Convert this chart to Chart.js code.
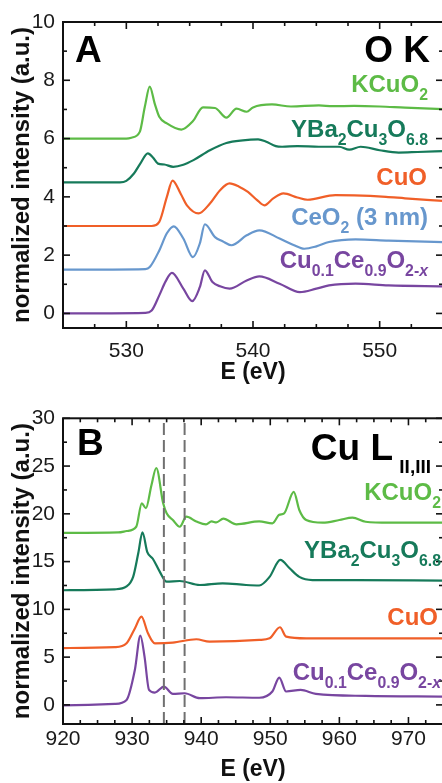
<!DOCTYPE html>
<html>
<head>
<meta charset="utf-8">
<script src="https://cdn.jsdelivr.net/npm/chart.js@4.4.0/dist/chart.umd.min.js"></script>
<style>
  html, body { margin: 0; padding: 0; background: #fff; overflow: hidden; width: 442px; height: 783px; }
  canvas { position: absolute; left: 0; }
  #chartA { top: 0; }
  #chartB { top: 392px; }
</style>
</head>
<body>
<canvas id="chartA" width="444" height="392"></canvas>
<canvas id="chartB" width="444" height="391"></canvas>
<script>
// ---- O K edge (panel A) ----
const okE_KCuO2 = [525, 530.0, 530.4, 531.06, 531.46, 531.85, 532.24, 532.6, 533.2, 534.35, 535.26, 536.05, 537.0, 537.9, 538.7, 539.5, 540.0, 541.5, 543, 545.2, 546.3, 548, 550, 552, 555];
const okI_KCuO2 = [6.0, 6.0, 6.03, 6.23, 7.09, 7.78, 7.2, 6.75, 6.52, 6.31, 6.6, 7.07, 7.05, 6.72, 7.03, 6.92, 7.07, 7.17, 7.1, 7.14, 7.11, 7.12, 7.1, 7.06, 7.01];

const okE_YBCO = [525, 529.5, 530.0, 530.6, 531.1, 531.7, 532.1, 532.5, 533.0, 533.7, 534.5, 535.3, 536.6, 537.9, 539.2, 540.4, 541.0, 541.8, 542.3, 543.5, 545.2, 546.8, 547.6, 548.5, 550, 551.5, 553, 555];
const okI_YBCO = [4.5, 4.5, 4.55, 4.8, 5.14, 5.49, 5.35, 5.14, 5.11, 5.03, 5.1, 5.26, 5.6, 5.85, 5.94, 5.97, 5.9, 5.74, 5.72, 5.74, 5.72, 5.72, 5.62, 5.72, 5.6, 5.52, 5.54, 5.57];

const okE_CuO = [525, 532.0, 532.6, 533.2, 533.65, 534.3, 534.8, 535.7, 536.6, 537.4, 538.15, 538.9, 539.6, 540.3, 540.9, 541.6, 542.4, 543.5, 544.3, 546.5, 548, 550.5, 552, 555];
const okI_CuO = [3.0, 3.0, 3.14, 4.0, 4.56, 4.1, 3.7, 3.43, 3.77, 4.23, 4.46, 4.35, 4.17, 3.9, 3.71, 3.95, 4.12, 3.98, 3.9, 4.06, 4.05, 4.0, 3.95, 3.86];

const okE_CeO2 = [525, 531.5, 531.85, 532.6, 533.2, 533.74, 534.5, 535.26, 535.8, 536.2, 537.0, 537.6, 538.3, 539.5, 540.5, 542.1, 543.2, 544.05, 545, 546, 548.1, 550.7, 555];
const okI_CeO2 = [1.5, 1.52, 1.59, 2.16, 2.75, 2.99, 2.57, 1.93, 2.4, 3.06, 2.62, 2.48, 2.34, 2.68, 2.85, 2.57, 2.35, 2.22, 2.3, 2.45, 2.54, 2.5, 2.45];

const okE_CuCe = [525, 531.5, 532.0, 532.6, 533.1, 533.6, 534.5, 535.2, 535.8, 536.2, 536.8, 537.4, 538.15, 539.5, 540.5, 542.1, 543.7, 545, 546, 548.1, 550.7, 555];
const okI_CuCe = [0, 0.02, 0.1, 0.62, 1.1, 1.39, 0.85, 0.42, 0.9, 1.48, 1.08, 0.93, 0.85, 1.13, 1.27, 1.02, 0.73, 0.85, 0.96, 1.02, 0.96, 0.93];

const okTicksX = [530, 540, 550];
const okTicksY = [0, 2, 4, 6, 8, 10];

// ---- Cu L edge (panel B) ----
const cuE_KCuO2 = [920, 928.0, 929.2, 930.6, 931.4, 932.0, 932.8, 933.5, 934.5, 935.0, 935.9, 936.9, 937.85, 939.3, 940.7, 941.5, 942.2, 943.2, 945.1, 948.4, 950.3, 951.3, 952.0, 953.4, 954.2, 955.2, 957.6, 960, 961.9, 963.8, 967.2, 975];
const cuI_KCuO2 = [18, 18.05, 18.2, 18.65, 21.1, 20.6, 23.0, 24.8, 21.1, 20.05, 19.35, 18.65, 19.7, 19.2, 18.9, 19.2, 19.1, 19.5, 18.9, 19.2, 19.0, 19.9, 20.05, 22.3, 20.4, 19.35, 19.07, 19.35, 19.6, 19.17, 19.07, 19.07];

const cuE_YBCO = [920, 927.5, 929.2, 930.15, 930.9, 931.5, 932.2, 933.0, 934.0, 935.0, 936.9, 939.8, 943.1, 946.5, 948.4, 949.9, 951.45, 952.8, 954.2, 956.1, 962.4, 975];
const cuI_YBCO = [12, 12.1, 12.4, 13.4, 15.9, 18.07, 16.0, 15.3, 13.95, 12.9, 12.97, 12.55, 12.73, 12.55, 12.5, 13.4, 15.17, 14.3, 13.4, 13.07, 13.07, 13.0];

const cuE_CuO = [920, 927.5, 929.2, 930.4, 931.35, 932.3, 933.3, 935.9, 939.3, 941.2, 948.4, 949.9, 951.4, 952.3, 955.2, 975];
const cuI_CuO = [5.95, 6.05, 6.45, 8.0, 9.24, 7.5, 6.45, 6.52, 6.87, 6.62, 6.8, 6.97, 8.13, 7.15, 6.97, 6.97];

const cuE_CuCe = [920, 927.5, 929.2, 930.4, 931.2, 931.8, 932.45, 933.3, 934.6, 935.9, 937.6, 939.8, 943.6, 948.4, 950.3, 951.3, 952.3, 954.4, 956.6, 963.8, 975];
const cuI_CuCe = [-0.05, 0.1, 0.52, 3.66, 7.25, 5.05, 1.57, 1.29, 1.92, 1.15, 1.22, 0.7, 0.8, 0.75, 1.4, 2.86, 1.4, 1.57, 1.15, 0.94, 0.87];

const cuDashE = [934.6, 937.6];
const cuTicksX = [920, 930, 940, 950, 960, 970];
const cuTicksY = [0, 5, 10, 15, 20, 25, 30];

const C_KCUO2 = '#5dbb46';
const C_YBCO = '#167a5a';
const C_CUO = '#f05f28';
const C_CEO2 = '#6797cd';
const C_CUCE = '#7846a0';

Chart.defaults.font.family = '"Liberation Sans", Arial, sans-serif';
Chart.defaults.color = '#111';

const pts = (xs, ys) => xs.map((x, i) => ({ x: x, y: ys[i] }));

function curve(xs, ys, color) {
  return {
    data: pts(xs, ys), borderColor: color, borderWidth: 2.2, pointRadius: 0,
    showLine: true, fill: false, cubicInterpolationMode: 'monotone'
  };
}

function drawRich(ctx, parts, right, base, size, color) {
  const fonts = parts.map(p => {
    const s = p[1] ? size * 0.66 : size;
    return (p[1] === 'i' ? 'italic ' : '') + 'bold ' + s + 'px "Liberation Sans", Arial, sans-serif';
  });
  let w = 0;
  parts.forEach((p, i) => { ctx.font = fonts[i]; w += ctx.measureText(p[0]).width; });
  let xx = right - w;
  ctx.fillStyle = color;
  ctx.textBaseline = 'alphabetic';
  ctx.textAlign = 'left';
  parts.forEach((p, i) => {
    ctx.font = fonts[i];
    ctx.fillText(p[0], xx, base + (p[1] ? size * 0.33 : 0));
    xx += ctx.measureText(p[0]).width;
  });
}

const framePlugin = {
  id: 'frame',
  afterDatasetsDraw(chart, args, opts) {
    const { ctx, chartArea: a, scales: { x, y } } = chart;
    ctx.save();
    ctx.strokeStyle = '#111';
    ctx.lineWidth = 2;
    ctx.strokeRect(a.left, a.top, a.right - a.left, a.bottom - a.top);
    const line = (x1, y1, x2, y2) => { ctx.beginPath(); ctx.moveTo(x1, y1); ctx.lineTo(x2, y2); ctx.stroke(); };
    const isMajor = (sc, v) => sc.ticks.some(t => Math.abs(t.value - v) < 1e-6);
    ctx.lineWidth = 1.6;
    for (let v = Math.ceil(x.min / opts.xMinor) * opts.xMinor; v <= x.max + 1e-9; v += opts.xMinor) {
      const p = x.getPixelForValue(v), L = isMajor(x, v) ? 7 : 4;
      line(p, a.bottom, p, a.bottom - L);
      line(p, a.top, p, a.top + L);
    }
    for (let v = Math.ceil(y.min / opts.yMinor) * opts.yMinor; v <= y.max + 1e-9; v += opts.yMinor) {
      const p = y.getPixelForValue(v), L = isMajor(y, v) ? 7 : 4;
      line(a.left, p, a.left + L, p);
      line(a.right, p, a.right - L, p);
    }
    (opts.labels || []).forEach(l => drawRich(ctx, l.parts, l.x, l.y, l.size, l.color));
    ctx.fillStyle = '#000';
    ctx.textAlign = 'left';
    ctx.textBaseline = 'alphabetic';
    (opts.letters || []).forEach(l => {
      ctx.font = 'bold ' + l.size + 'px "Liberation Sans", Arial, sans-serif';
      ctx.fillText(l.text, l.x, l.y);
    });
    ctx.restore();
  }
};

function makeOptions(cfg) {
  return {
    responsive: false,
    animation: false,
    layout: { padding: { top: cfg.top, right: 1, left: 0, bottom: 0 } },
    plugins: {
      legend: { display: false },
      tooltip: { enabled: false },
      frame: cfg.frame
    },
    scales: {
      x: {
        type: 'linear', min: cfg.xMin, max: cfg.xMax,
        afterBuildTicks: s => { s.ticks = cfg.ticksX.map(v => ({ value: v })); },
        afterFit: s => { s.height = cfg.xHeight; },
        grid: { display: false, drawTicks: false },
        border: { display: false },
        ticks: { font: { size: 21 }, color: '#1a1a1a', padding: cfg.xPad, maxRotation: 0, autoSkip: false },
        title: { display: true, text: 'E (eV)', font: { size: 23, weight: 'bold' }, color: '#111', padding: { top: 0, bottom: cfg.titlePad } }
      },
      y: {
        type: 'linear', min: cfg.yMin, max: cfg.yMax,
        afterBuildTicks: s => { s.ticks = cfg.ticksY.map(v => ({ value: v })); },
        afterFit: s => { s.width = 63; },
        grid: { display: false, drawTicks: false },
        border: { display: false },
        ticks: { font: { size: 21 }, color: '#1a1a1a', padding: 8, autoSkip: false },
        title: { display: true, text: 'normalized intensity (a.u.)', font: { size: 24, weight: 'bold' }, color: '#111', padding: { top: 8, bottom: 0 } }
      }
    }
  };
}

new Chart(document.getElementById('chartA'), {
  type: 'scatter',
  data: {
    datasets: [
      curve(okE_CuCe, okI_CuCe, C_CUCE),
      curve(okE_CeO2, okI_CeO2, C_CEO2),
      curve(okE_CuO, okI_CuO, C_CUO),
      curve(okE_YBCO, okI_YBCO, C_YBCO),
      curve(okE_KCuO2, okI_KCuO2, C_KCUO2)
    ]
  },
  options: makeOptions({
    top: 22, xMin: 525, xMax: 555, yMin: -0.5, yMax: 10,
    ticksX: okTicksX, ticksY: okTicksY, xHeight: 64, xPad: 11, titlePad: 6,
    frame: {
      xMinor: 2.5, yMinor: 1,
      letters: [{ text: 'A', x: 75, y: 62, size: 37 }],
      labels: [
        { parts: [['O K']], x: 430, y: 62, size: 37, color: '#000' },
        { parts: [['KCuO'], ['2', 's']], x: 428, y: 92, size: 24, color: C_KCUO2 },
        { parts: [['YBa'], ['2', 's'], ['Cu'], ['3', 's'], ['O'], ['6.8', 's']], x: 428, y: 137, size: 24, color: C_YBCO },
        { parts: [['CuO']], x: 427, y: 185, size: 24, color: C_CUO },
        { parts: [['CeO'], ['2', 's'], [' (3 nm)']], x: 428, y: 225, size: 24, color: C_CEO2 },
        { parts: [['Cu'], ['0.1', 's'], ['Ce'], ['0.9', 's'], ['O'], ['2-', 's'], ['x', 'i']], x: 428, y: 268, size: 24, color: C_CUCE }
      ]
    }
  }),
  plugins: [framePlugin]
});

const dashSets = cuDashE.map(e => ({
  data: [{ x: e, y: -2 }, { x: e, y: 30 }], borderColor: '#707070', borderWidth: 2,
  borderDash: [12, 5], pointRadius: 0, showLine: true, fill: false
}));

new Chart(document.getElementById('chartB'), {
  type: 'scatter',
  data: {
    datasets: dashSets.concat([
      curve(cuE_CuCe, cuI_CuCe, C_CUCE),
      curve(cuE_CuO, cuI_CuO, C_CUO),
      curve(cuE_YBCO, cuI_YBCO, C_YBCO),
      curve(cuE_KCuO2, cuI_KCuO2, C_KCUO2)
    ])
  },
  options: makeOptions({
    top: 26.3, xMin: 920, xMax: 975, yMin: -2, yMax: 30,
    ticksX: cuTicksX, ticksY: cuTicksY, xHeight: 59, xPad: 3, titlePad: 0,
    frame: {
      xMinor: 2.5, yMinor: 2.5,
      letters: [{ text: 'B', x: 77, y: 63, size: 37 }],
      labels: [
        { parts: [['Cu L']], x: 393, y: 68, size: 37, color: '#000' },
        { parts: [['II,III']], x: 431, y: 81, size: 19, color: '#000' },
        { parts: [['KCuO'], ['2', 's']], x: 441, y: 108, size: 24, color: C_KCUO2 },
        { parts: [['YBa'], ['2', 's'], ['Cu'], ['3', 's'], ['O'], ['6.8', 's']], x: 441, y: 166, size: 24, color: C_YBCO },
        { parts: [['CuO']], x: 438, y: 233, size: 24, color: C_CUO },
        { parts: [['Cu'], ['0.1', 's'], ['Ce'], ['0.9', 's'], ['O'], ['2-', 's'], ['x', 'i']], x: 441, y: 288, size: 24, color: C_CUCE }
      ]
    }
  }),
  plugins: [framePlugin]
});
</script>
</body>
</html>
